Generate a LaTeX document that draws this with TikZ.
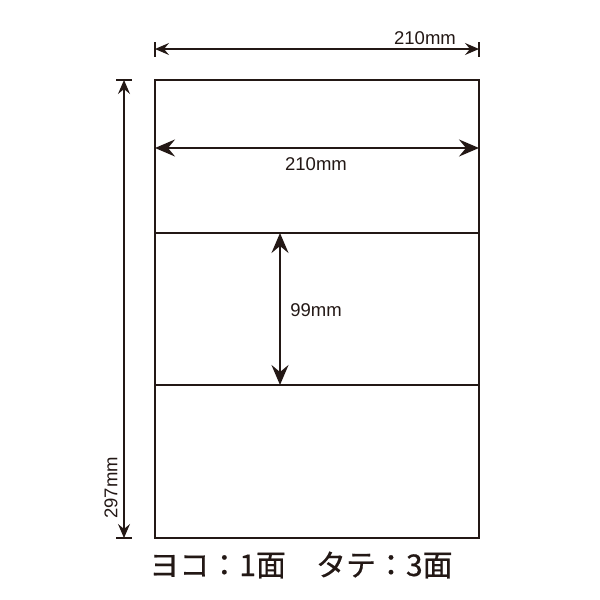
\documentclass[tikz,border=0pt]{standalone}
\usepackage{fontspec}
\setmainfont{Liberation Sans}
\newfontfamily\cjk[FakeBold=0.6]{Noto Sans CJK JP}
\usetikzlibrary{arrows.meta}
\definecolor{ink}{HTML}{231815}
\begin{document}
\begin{tikzpicture}[x=1pt,y=-1pt,
  sheet/.style={draw=ink,line width=2.8pt},
  dimline/.style={draw=ink,line width=1.6pt,{Stealth[length=14pt,width=12pt,inset=5pt]}-{Stealth[length=14pt,width=12pt,inset=5pt]}},
  bigdim/.style={draw=ink,line width=2pt,{Stealth[length=20pt,width=17pt,inset=7pt]}-{Stealth[length=20pt,width=17pt,inset=7pt]}},
  tick/.style={draw=ink,line width=1.4pt},
  lbl/.style={text=ink,font=\fontsize{18.5}{18.5}\selectfont,inner sep=0pt}]
\useasboundingbox (0,0) rectangle (600,600);
% sheet
\draw[sheet] (155,80) rectangle (479,538);
\draw[sheet] (155,233) -- (479,233);
\draw[sheet] (155,385) -- (479,385);
% top dimension
\coordinate (tl) at (155,49);
\coordinate (tr) at (479,49);
\draw[tick] (155,42) -- (155,57);
\draw[tick] (479,42) -- (479,57);
\draw[dimline] (tl) -- (tr);
\node[lbl] (ttop) at (425,38) {210mm};
% left dimension
\coordinate (lt) at (124,80);
\coordinate (lb) at (124,538);
\draw[tick] (116,80) -- (132,80);
\draw[tick] (116,538) -- (132,538);
\draw[dimline] (lt) -- (lb);
\node[lbl,rotate=90] (tleft) at (111,488) {297mm};
% inner width
\coordinate (wl) at (155,148);
\coordinate (wr) at (479,148);
\draw[bigdim] (wl) -- (wr);
\node[lbl] (twidth) at (316,164) {210mm};
% inner height
\coordinate (ht) at (280,233);
\coordinate (hb) at (280,385);
\draw[bigdim] (ht) -- (hb);
\node[lbl] (theight) at (316,310) {99mm};
% caption
\node[text=ink,inner sep=0pt,font=\cjk\fontsize{30}{30}\selectfont] (cap) at (301,565) {ヨコ：1面　タテ：3面};
\end{tikzpicture}
\end{document}
